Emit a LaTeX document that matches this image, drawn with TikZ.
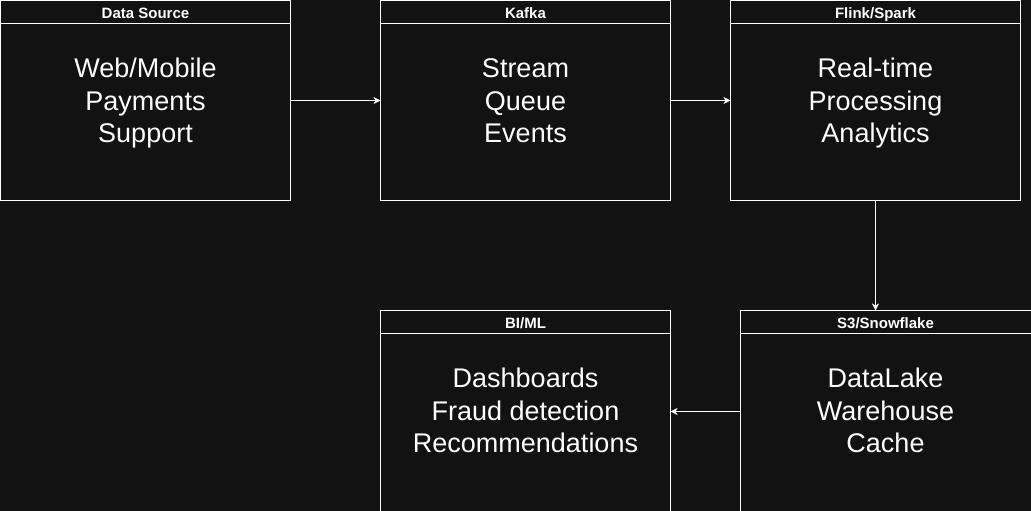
\documentclass[tikz,border=0pt]{standalone}
\usepackage{fontspec}
\setmainfont{Liberation Sans}
\usetikzlibrary{arrows.meta}
\definecolor{bg}{HTML}{121212}
\begin{document}
\begin{tikzpicture}[x=1pt,y=-1pt,
  box/.style={draw=white, line width=1pt, fill=bg, anchor=north west, inner sep=0pt, outer sep=0pt},
  head/.style={text=white, font=\bfseries\fontsize{15}{18}\selectfont, inner sep=0pt, anchor=base},
  body/.style={text=white, font=\fontsize{27}{32.4}\selectfont, align=center, inner sep=0pt, anchor=center, yshift=-3.4pt},
  conn/.style={draw=white, line width=1pt, -{Stealth[length=7pt,width=7pt,inset=2pt]}}]
\fill[bg] (0,0) rectangle (1031,511);
\useasboundingbox (0,0) rectangle (1031,511);
\begin{scope}
\clip (0,0) rectangle (1031,511);
% boxes
\node[box, minimum width=290pt, minimum height=200pt] (ds) at (0.5,0.5) {};
\node[box, minimum width=290pt, minimum height=200pt] (kf) at (380.5,0.5) {};
\node[box, minimum width=290pt, minimum height=200pt] (fs) at (730.5,0.5) {};
\node[box, minimum width=292pt, minimum height=202pt] (sn) at (740.5,310.5) {};
\node[box, minimum width=290pt, minimum height=202pt] (bi) at (380.5,310.5) {};
% header separators
\foreach \n in {ds,kf,fs,sn,bi}{
  \draw[white, line width=1pt] ([yshift=-23pt]\n.north west) -- ([yshift=-23pt]\n.north east);
}
\end{scope}
% titles
\node[head] (dst) at ([yshift=-18.3pt]ds.north) {Data Source};
\node[head] (kft) at ([yshift=-18.3pt]kf.north) {Kafka};
\node[head] (fst) at ([yshift=-18.3pt]fs.north) {Flink/Spark};
\node[head] (snt) at ([yshift=-18.3pt,xshift=-1pt]sn.north) {S3/Snowflake};
\node[head] (bit) at ([yshift=-18.3pt]bi.north) {BI/ML};
% bodies
\node[body] (dsb) at (ds.center) {\strut Web/Mobile\\Payments\\Support\strut};
\node[body] (kfb) at (kf.center) {\strut Stream\\Queue\\Events\strut};
\node[body] (fsb) at (fs.center) {\strut Real-time\\Processing\\Analytics\strut};
\node[body] (snb) at ([xshift=-1pt,yshift=1pt]sn.center) {\strut DataLake\\Warehouse\\Cache\strut};
\node[body] (bib) at ([yshift=1pt]bi.center) {\strut Dashboards\\Fraud detection\\Recommendations\strut};
% connectors
\draw[conn] (ds.east) -- (kf.west);
\draw[conn] (kf.east) -- (fs.west);
\draw[conn] (fs.south) -- (fs.south |- sn.north);
\draw[conn] (sn.west |- bi.east) -- (bi.east);
\end{tikzpicture}
\end{document}
